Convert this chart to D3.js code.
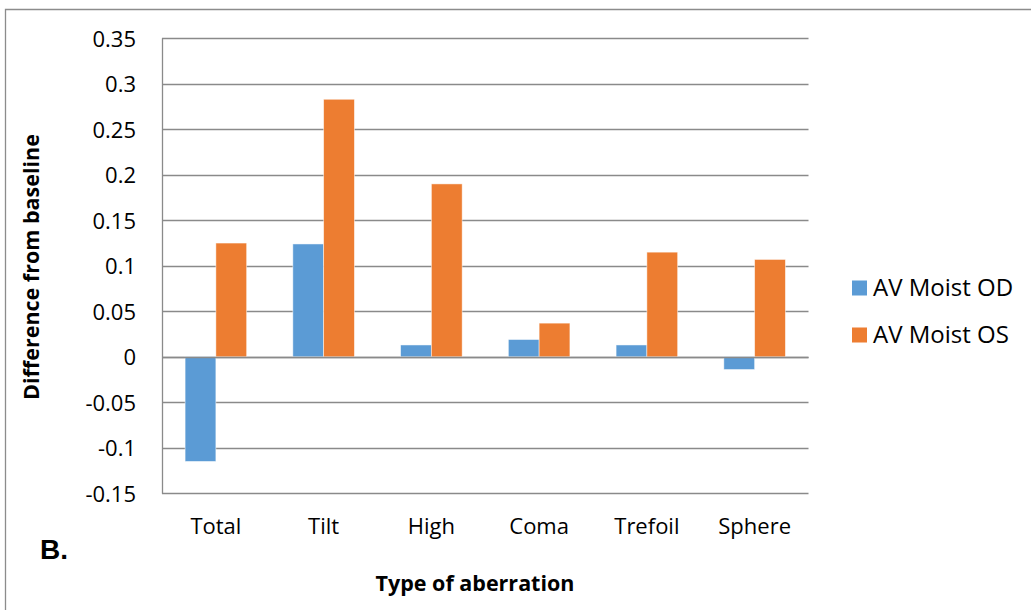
<!DOCTYPE html>
<html>
<head>
<meta charset="utf-8">
<script src="https://cdn.jsdelivr.net/npm/d3@7"></script>
<style>
  html, body { margin: 0; padding: 0; background: #fff; }
  svg { display: block; }
</style>
</head>
<body>
<script>
// Aberration categories and mean differences from baseline per eye
const categories = ["Total", "Tilt", "High", "Coma", "Trefoil", "Sphere"];
const seriesNames = ["AV Moist OD", "AV Moist OS"];
const odValues = [-0.115, 0.124, 0.013, 0.019, 0.013, -0.014];
const osValues = [0.125, 0.283, 0.19, 0.037, 0.115, 0.107];
const yTicks = [-0.15, -0.1, -0.05, 0, 0.05, 0.1, 0.15, 0.2, 0.25, 0.3, 0.35];
const colors = ["#5b9bd5", "#ed7d31"];

const W = 1031, H = 610;
const plot = { left: 162, right: 808.5, top: 38.3, bottom: 493.3 };
const FONT = "'Open Sans', 'Noto Sans', sans-serif";
const FS = 22;

const svg = d3.select("body").append("svg").attr("width", W).attr("height", H)
  .attr("font-family", FONT);

// outer chart frame (only top and left edges fall inside the view)
svg.append("path")
  .attr("d", `M5.5,${H + 5} V9.5 H${W + 5}`)
  .attr("fill", "none").attr("stroke", "#8c8c8c").attr("stroke-width", 1.3);

const x0 = d3.scaleBand().domain(categories).range([plot.left, plot.right]).paddingInner(0).paddingOuter(0);
const x1 = d3.scaleBand().domain(seriesNames)
  .range([x0.bandwidth() * 0.75 / 3.5, x0.bandwidth() * (0.75 + 2) / 3.5]);
const y = d3.scaleLinear().domain([-0.15, 0.35]).range([plot.bottom, plot.top]);

// horizontal gridlines
svg.append("g").selectAll("line").data(yTicks).join("line")
  .attr("x1", plot.left).attr("x2", plot.right)
  .attr("y1", d => Math.round(y(d)) + 0.5).attr("y2", d => Math.round(y(d)) + 0.5)
  .attr("stroke", "#8a8a8a").attr("stroke-width", 1.3);

// y axis tick labels (plain hyphen for negatives)
const yAxis = d3.axisLeft(y).tickValues(yTicks).tickSize(0).tickPadding(0)
  .tickFormat(d => String(+d.toFixed(2)));
const gy = svg.append("g").attr("transform", `translate(${plot.left - 26},0)`).call(yAxis);
gy.attr("font-family", FONT).attr("font-size", FS);
gy.select(".domain").remove();
gy.selectAll("text").attr("fill", "#000").attr("dy", "0.35em");

// left axis line
svg.append("line")
  .attr("x1", plot.left + 0.5).attr("x2", plot.left + 0.5)
  .attr("y1", plot.top).attr("y2", plot.bottom + 0.5)
  .attr("stroke", "#8a8a8a").attr("stroke-width", 1.3);

// bars
const rows = categories.map((c, i) => ({ cat: c, vals: [odValues[i], osValues[i]] }));
const groups = svg.append("g").selectAll("g").data(rows).join("g")
  .attr("transform", d => `translate(${x0(d.cat)},0)`);
groups.selectAll("rect").data(d => d.vals.map((v, j) => ({ v, s: seriesNames[j], j })))
  .join("rect")
  .attr("x", d => x1(d.s))
  .attr("width", x1.bandwidth())
  .attr("y", d => y(Math.max(0, d.v)))
  .attr("height", d => Math.abs(y(d.v) - y(0)))
  .attr("fill", d => colors[d.j])
  .attr("stroke", "#fff").attr("stroke-opacity", 0.6).attr("stroke-width", 0.8);

// zero line drawn over the bars
svg.append("line")
  .attr("x1", plot.left).attr("x2", plot.right)
  .attr("y1", Math.round(y(0)) + 0.5).attr("y2", Math.round(y(0)) + 0.5)
  .attr("stroke", "#8a8a8a").attr("stroke-width", 1.3);

// x axis category labels
const xAxis = d3.axisBottom(x0).tickSize(0).tickPadding(0);
const gx = svg.append("g").attr("transform", `translate(0,${plot.bottom + 33})`).call(xAxis);
gx.attr("font-family", FONT).attr("font-size", FS);
gx.select(".domain").remove();
gx.selectAll("text").attr("fill", "#000").attr("dy", "0.35em");

// axis titles
svg.append("text").attr("x", 475).attr("y", 583).attr("dy", "0.35em")
  .attr("text-anchor", "middle").attr("font-size", 21.5).attr("font-weight", "bold")
  .text("Type of aberration");
svg.append("text").attr("transform", "translate(31,267) rotate(-90)").attr("dy", "0.35em")
  .attr("text-anchor", "middle").attr("font-size", 21.5).attr("font-weight", "bold")
  .text("Difference from baseline");

// panel label
svg.append("text").attr("x", 40).attr("y", 559)
  .attr("font-family", "'Liberation Sans', Arial, sans-serif").attr("font-size", 28).attr("font-weight", "bold")
  .text("B.");

// legend
const legend = svg.append("g").selectAll("g").data(seriesNames).join("g")
  .attr("transform", (d, i) => `translate(852,${288 + i * 47})`);
legend.append("rect").attr("x", 0).attr("y", -7.5).attr("width", 15).attr("height", 15)
  .attr("fill", (d, i) => colors[i]);
legend.append("text").attr("x", 21).attr("y", 0).attr("dy", "0.35em")
  .attr("font-size", 24).text(d => d);
</script>
</body>
</html>
